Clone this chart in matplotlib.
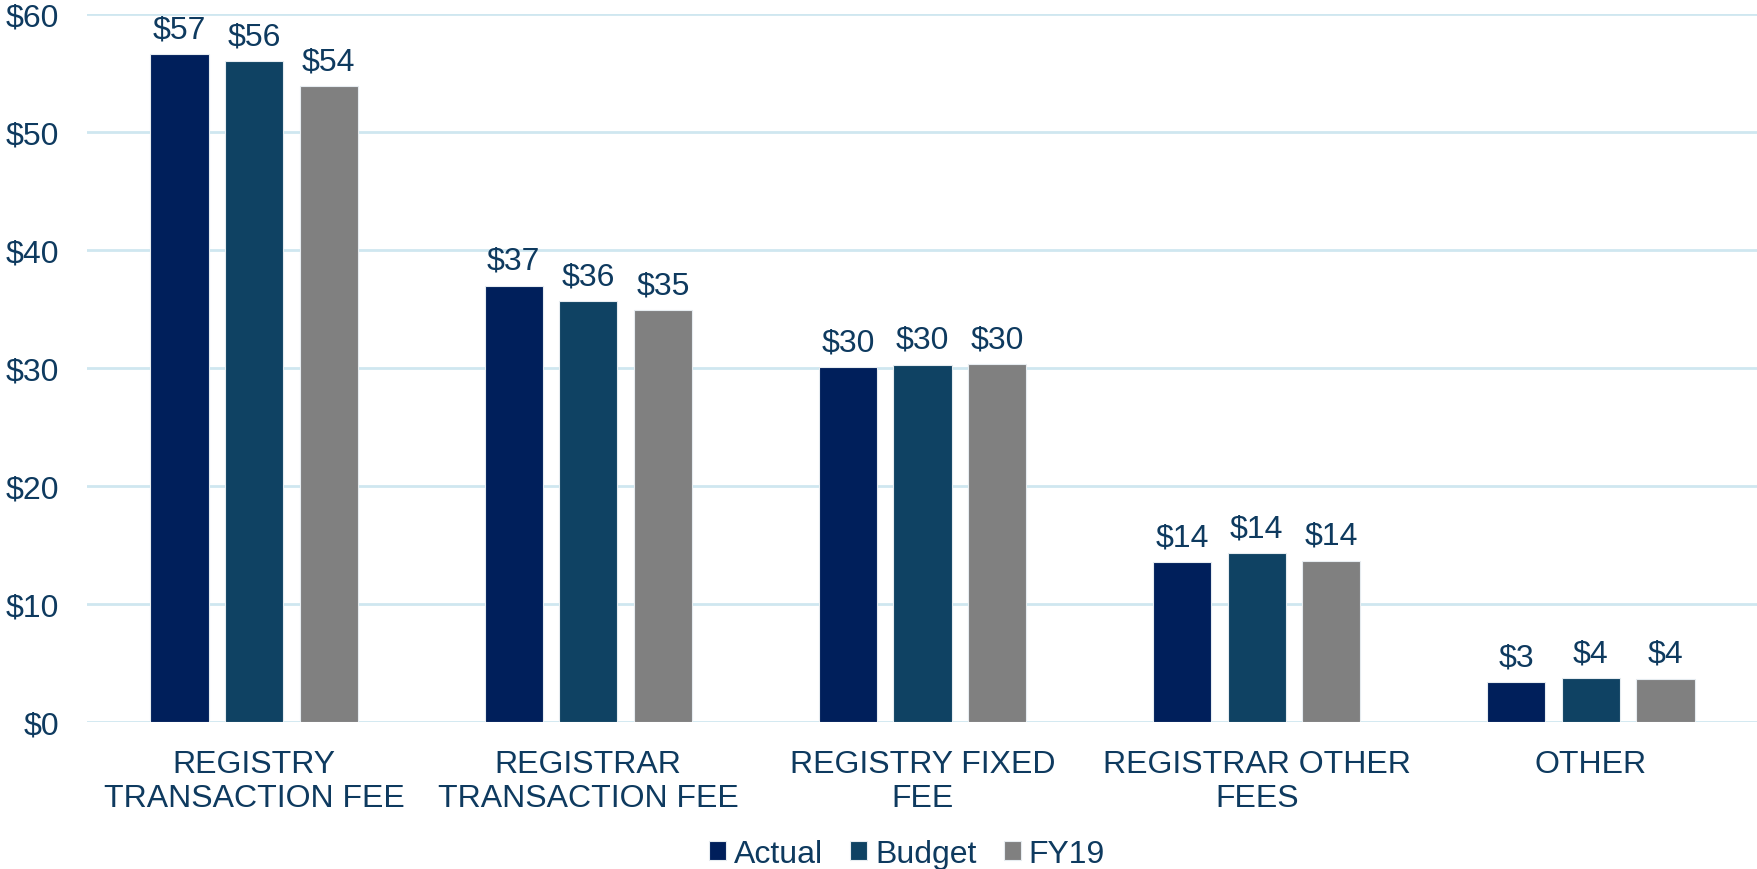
import matplotlib
matplotlib.use("Agg")
import matplotlib.pyplot as plt
import numpy as np

categories = ["REGISTRY\nTRANSACTION FEE", "REGISTRAR\nTRANSACTION FEE", "REGISTRY FIXED\nFEE",
              "REGISTRAR OTHER\nFEES", "OTHER"]
series_names = ["Actual", "Budget", "FY19"]
actual = [56.6, 37.0, 30.1, 13.6, 3.4]
budget = [56.0, 35.7, 30.3, 14.3, 3.75]
fy19 = [53.9, 34.9, 30.35, 13.7, 3.7]
colors = ["#001F5B", "#0F4263", "#808080"]
text_color = "#0E3A5F"
grid_color = "#CFE7F0"

plt.rcParams['font.family'] = ['Liberation Sans', 'DejaVu Sans']
FS = 23

fig = plt.figure(figsize=(17.58, 8.70), dpi=100)
ax = fig.add_axes([87/1758, 1-723.3/870, 1-87/1758, (723.3-15)/870])

x = np.arange(len(categories))
width = 0.174
pitch = 0.223
all_series = [actual, budget, fy19]
for i, (vals, name, c) in enumerate(zip(all_series, series_names, colors)):
    bars = ax.bar(x + (i-1)*pitch, vals, width, color=c, label=name,
                  edgecolor="#E6ECF0", linewidth=0.8, zorder=3)
    for b, v in zip(bars, vals):
        ax.annotate(f"${v:.0f}", (b.get_x()+b.get_width()/2, v), xytext=(0, 7),
                    textcoords="offset points", ha="center", va="bottom",
                    fontsize=FS, color=text_color)

ax.set_xlim(-0.5, len(categories)-0.5)
ax.set_ylim(0, 60)
ax.set_yticks(np.arange(0, 61, 10))
ax.set_yticklabels([f"${v}" for v in range(0, 61, 10)])
ax.set_xticks(x)
ax.set_xticklabels(categories)
ax.tick_params(axis='y', length=0, pad=20, labelsize=FS, labelcolor=text_color)
ax.tick_params(axis='x', length=0, pad=19, labelsize=FS, labelcolor=text_color)
ax.yaxis.grid(True, color=grid_color, linewidth=2, zorder=0)
ax.set_axisbelow(True)
for s in ax.spines.values():
    s.set_visible(False)

fig.legend(loc="center", bbox_to_anchor=(907/1758, 1-855/870), ncol=3, frameon=False,
           fontsize=FS, handlelength=0.53, handleheight=0.53, handletextpad=0.25,
           columnspacing=0.85, labelcolor=text_color, borderaxespad=0, borderpad=0)

fig.savefig("out.png", dpi=100)
